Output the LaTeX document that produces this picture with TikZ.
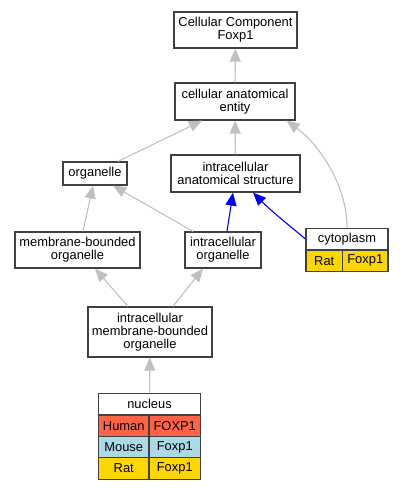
\documentclass[tikz,border=0pt]{standalone}
\usepackage{fontspec}
\setmainfont{Liberation Sans}
\usepackage{tikz}
\usetikzlibrary{arrows.meta,calc}

\definecolor{human}{HTML}{FF6347}
\definecolor{mouse}{HTML}{ADD8E6}
\definecolor{rat}{HTML}{FFD700}
\definecolor{edgegray}{HTML}{C0C0C0}
\definecolor{boxline}{HTML}{404040}

\begin{document}
\begin{tikzpicture}[
  x=1pt, y=-1pt,
  term/.style={draw=boxline, line width=1.2pt, fill=white, align=center,
    inner sep=0pt, font={\fontsize{12.9}{13.3}\selectfont}},
  cell/.style={term, minimum height=21.5},
  isa/.style={draw=edgegray, line width=1.1pt, -{Triangle[length=13pt,width=11pt]}},
  partof/.style={draw=blue, line width=1.1pt, -{Triangle[length=13pt,width=11pt]}}
]
\useasboundingbox (0,0) rectangle (403,491);

% --- terms ---
\node[term, minimum width=123, minimum height=36] (ccf) at (235.5,30) {Cellular Component\\Foxp1};
\node[term, minimum width=120, minimum height=37] (cae) at (235,101.5) {cellular anatomical\\entity};
\node[term, minimum width=64, minimum height=23] (org) at (95,173.5) {organelle};
\node[term, minimum width=129, minimum height=37] (ias) at (235.5,173.5) {intracellular\\anatomical structure};
\node[term, minimum width=125, minimum height=36] (mbo) at (77.5,250) {membrane-bounded\\organelle};
\node[term, minimum width=76, minimum height=36] (io) at (223,250) {intracellular\\organelle};
\node[term, minimum width=124, minimum height=50] (imbo) at (150,332) {intracellular\\membrane-bounded\\organelle};

% --- cytoplasm table ---
\node[cell, minimum width=82] (cyto) at (347,239) {cytoplasm};
\node[cell, fill=rat, minimum width=36.5] (cyto-rat) at (324.25,260.75) {Rat};
\node[cell, fill=rat, minimum width=45.5] (cyto-rat-g) at (365.25,260.75) {Foxp1};

% --- nucleus table ---
\node[cell, minimum width=102] (nuc) at (149.5,404) {nucleus};
\foreach \sp/\gn/\col/\y in {Human/FOXP1/human/426, Mouse/Foxp1/mouse/447.5, Rat/Foxp1/rat/468.5} {
  \node[cell, fill=\col, minimum width=50.5] (nuc-\sp) at (123.75,\y) {\sp};
  \node[cell, fill=\col, minimum width=51.5] (nuc-\sp-g) at (174.75,\y) {\gn};
}

% --- is_a edges ---
\draw[isa] (cae) -- (ccf);
\draw[isa] ($(org.north)+(23,0)$) -- ($(cae.south)+(-33,0)$);
\draw[isa] (ias) -- (cae);
\draw[isa] (cyto.north) .. controls +(0,-45) and +(30,22) .. ($(cae.south east)+(-9,0)$);
\draw[isa] ($(mbo.north)+(5.5,0)$) -- ($(org.south)+(-2,0)$);
\draw[isa] ($(io.north)+(-30,0)$) -- ($(org.south)+(18,0)$);
\draw[isa] ($(imbo.north)+(-22,0)$) -- ($(mbo.south)+(17.5,0)$);
\draw[isa] ($(imbo.north)+(23,0)$) -- ($(io.south)+(-20,0)$);
\draw[isa] (nuc) -- (imbo);

% --- part_of edges ---
\draw[partof] ($(io.north)+(4,0)$) -- ($(ias.south)+(-2.5,0)$);
\draw[partof] (cyto.west) to[out=140,in=-45] ($(ias.south)+(17.5,0)$);

\end{tikzpicture}
\end{document}
